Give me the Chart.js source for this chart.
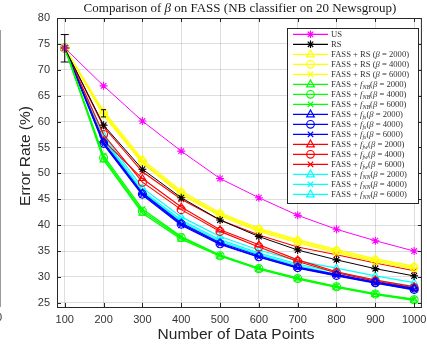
<!DOCTYPE html>
<html>
<head>
<meta charset="utf-8">
<script src="https://cdn.jsdelivr.net/npm/chart.js@4.4.1/dist/chart.umd.min.js"></script>
<style>
  html, body { margin: 0; padding: 0; background: #fff; }
  #c { display: block; }
</style>
</head>
<body>
<canvas id="c" width="427" height="350"></canvas>
<script>
// --- data ---
const xValues = [100, 200, 300, 400, 500, 600, 700, 800, 900, 1000];
const xTicks = [100, 200, 300, 400, 500, 600, 700, 800, 900, 1000];
const yTicks = [25, 30, 35, 40, 45, 50, 55, 60, 65, 70, 75, 80];

const us     = [74.2, 66.9, 60.1, 54.3, 49.0, 45.3, 41.9, 39.2, 37.0, 35.0];
const rs     = [74.2, 59.3, 50.8, 45.3, 41.0, 37.8, 35.2, 33.3, 31.6, 30.2];
const rs2000 = [74.2, 62.0, 52.7, 46.6, 42.4, 39.4, 37.2, 35.3, 33.5, 32.1];
const rs4000 = [74.2, 61.6, 52.3, 46.2, 42.1, 39.1, 36.9, 35.0, 33.2, 31.8];
const rs6000 = [74.2, 61.2, 52.0, 45.9, 41.8, 38.8, 36.6, 34.7, 32.9, 31.5];
const nb2000 = [74.2, 52.6, 42.3, 37.3, 34.0, 31.5, 29.6, 28.0, 26.6, 25.5];
const nb4000 = [74.2, 53.0, 42.7, 37.6, 34.1, 31.6, 29.7, 28.1, 26.7, 25.6];
const nb6000 = [74.2, 53.4, 43.1, 37.8, 34.2, 31.7, 29.8, 28.2, 26.8, 25.7];
const fs2000 = [74.2, 56.0, 46.2, 40.4, 36.6, 34.1, 31.9, 30.5, 29.0, 27.8];
const fs4000 = [74.2, 55.8, 46.0, 40.2, 36.4, 33.9, 31.8, 30.3, 28.9, 27.6];
const fs6000 = [74.2, 55.6, 45.8, 40.0, 36.3, 33.8, 31.7, 30.2, 28.8, 27.5];
const fw2000 = [74.2, 56.3, 49.0, 43.5, 39.1, 36.2, 33.3, 31.0, 29.4, 28.1];
const fw4000 = [74.2, 57.5, 48.3, 43.0, 38.8, 35.8, 33.0, 30.8, 29.2, 27.9];
const fw6000 = [74.2, 59.0, 50.3, 45.0, 41.0, 38.1, 35.8, 34.3, 32.7, 31.2];
const nn2000 = [74.2, 57.4, 47.2, 41.6, 37.8, 35.2, 33.1, 31.7, 30.2, 28.9];
const nn4000 = [74.2, 56.8, 46.6, 41.0, 37.2, 34.6, 32.5, 30.9, 29.4, 28.2];
const nn6000 = [74.2, 56.5, 46.3, 40.7, 36.9, 34.3, 32.2, 30.5, 28.9, 27.5];

// error bar (x, low, high)
const errX = [100, 200];
const errLow = [71.5, 60.9];
const errHigh = [76.8, 62.3];

// --- label helpers: [text, style] with n = roman, i = italic, s = subscript ---
const betaLabel = (head, sub, val) => {
	const parts = [["FASS + ", "n"]];
	if (sub) parts.push(["f", "i"], [sub, "s"], ["(", "n"]);
	else parts.push([head + " (", "n"]);
	parts.push(["β", "i"], [" = " + val + ")", "n"]);
	return parts;
};

const series = [
	{ parts: [["US", "n"]], data: us, color: "#ff00ff", marker: "star", lw: 1 },
	{ parts: [["RS", "n"]], data: rs, color: "#000000", marker: "star", lw: 1 },
	{ parts: betaLabel("RS", null, 2000), data: rs2000, color: "#ffff00", marker: "triangle", lw: 1.3 },
	{ parts: betaLabel("RS", null, 4000), data: rs4000, color: "#ffff00", marker: "circle", lw: 1.3 },
	{ parts: betaLabel("RS", null, 6000), data: rs6000, color: "#ffff00", marker: "crossRot", lw: 1.3 },
	{ parts: betaLabel(null, "NB", 2000), data: nb2000, color: "#00ff00", marker: "triangle", lw: 1.3 },
	{ parts: betaLabel(null, "NB", 4000), data: nb4000, color: "#00ff00", marker: "circle", lw: 1.3 },
	{ parts: betaLabel(null, "NB", 6000), data: nb6000, color: "#00ff00", marker: "crossRot", lw: 1.3 },
	{ parts: betaLabel(null, "fs", 2000), data: fs2000, color: "#0000ff", marker: "triangle", lw: 1.2 },
	{ parts: betaLabel(null, "fs", 4000), data: fs4000, color: "#0000ff", marker: "circle", lw: 1.2 },
	{ parts: betaLabel(null, "fs", 6000), data: fs6000, color: "#0000ff", marker: "crossRot", lw: 1.2 },
	{ parts: betaLabel(null, "fw", 2000), data: fw2000, color: "#ff0000", marker: "triangle", lw: 1.1 },
	{ parts: betaLabel(null, "fw", 4000), data: fw4000, color: "#ff0000", marker: "circle", lw: 1.1 },
	{ parts: betaLabel(null, "fw", 6000), data: fw6000, color: "#ff0000", marker: "crossRot", lw: 1.1 },
	{ parts: betaLabel(null, "NN", 2000), data: nn2000, color: "#00ffff", marker: "triangle", lw: 1.2 },
	{ parts: betaLabel(null, "NN", 4000), data: nn4000, color: "#00ffff", marker: "crossRot", lw: 1.2 },
	{ parts: betaLabel(null, "NN", 6000), data: nn6000, color: "#00ffff", marker: "triangle", lw: 1.2 }
];

const SERIF = '"Liberation Serif", "DejaVu Serif", serif';
const SANS = '"Liberation Sans", Arial, sans-serif';
const AXIS = "#262626";

// --- draw text made of parts (roman / italic / subscript) ---
const partFont = (s, size) => s === "n" ? `${size}px ${SERIF}` : s === "i" ? `italic ${size}px ${SERIF}` : `italic ${size * 0.7}px ${SERIF}`;
function richWidth(ctx, parts, size) {
	let w = 0;
	parts.forEach(([t, s]) => { ctx.font = partFont(s, size); w += ctx.measureText(t).width; });
	return w;
}
function drawRich(ctx, parts, x, y, size) {
	ctx.textBaseline = "alphabetic";
	ctx.textAlign = "left";
	parts.forEach(([t, s]) => {
		ctx.font = partFont(s, size);
		ctx.fillText(t, x, s === "s" ? y + size * 0.25 : y);
		x += ctx.measureText(t).width;
	});
}

function drawMarker(ctx, style, x, y, r) {
	ctx.beginPath();
	if (style === "circle") {
		ctx.arc(x, y, r, 0, Math.PI * 2);
	} else if (style === "triangle") {
		ctx.moveTo(x, y - r * 1.15);
		ctx.lineTo(x + r, y + r * 0.7);
		ctx.lineTo(x - r, y + r * 0.7);
		ctx.closePath();
	} else {
		const d = r * 0.71;
		ctx.moveTo(x - d, y - d); ctx.lineTo(x + d, y + d);
		ctx.moveTo(x - d, y + d); ctx.lineTo(x + d, y - d);
		if (style === "star") {
			ctx.moveTo(x - r, y); ctx.lineTo(x + r, y);
			ctx.moveTo(x, y - r); ctx.lineTo(x, y + r);
		}
	}
	ctx.stroke();
}

// --- frame, title, axis titles, error bars, legend ---
const decorPlugin = {
	id: "decor",
	afterDatasetsDraw(chart) {
		const { ctx, chartArea: a, scales: { x, y } } = chart;
		ctx.save();

		// error bars
		ctx.strokeStyle = "#000";
		ctx.lineWidth = 1;
		errX.forEach((xv, i) => {
			const px = x.getPixelForValue(xv);
			const y1 = y.getPixelForValue(errLow[i]), y2 = y.getPixelForValue(errHigh[i]);
			const cap = i === 0 ? 4 : 2.5;
			ctx.beginPath();
			ctx.moveTo(px, y1); ctx.lineTo(px, y2);
			ctx.moveTo(px - cap, y1); ctx.lineTo(px + cap, y1);
			ctx.moveTo(px - cap, y2); ctx.lineTo(px + cap, y2);
			ctx.stroke();
		});

		// box with inward ticks
		ctx.strokeStyle = AXIS;
		ctx.lineWidth = 1;
		ctx.strokeRect(a.left + 0.5, a.top + 0.5, a.right - a.left - 1, a.bottom - a.top);
		ctx.beginPath();
		xTicks.forEach(v => {
			const px = Math.round(x.getPixelForValue(v)) + 0.5;
			ctx.moveTo(px, a.bottom); ctx.lineTo(px, a.bottom - 4);
			ctx.moveTo(px, a.top); ctx.lineTo(px, a.top + 4);
		});
		yTicks.forEach(v => {
			const py = Math.round(y.getPixelForValue(v)) + 0.5;
			ctx.moveTo(a.left, py); ctx.lineTo(a.left + 4, py);
			ctx.moveTo(a.right, py); ctx.lineTo(a.right - 4, py);
		});
		ctx.stroke();

		// neighbour panel edge at far left
		ctx.strokeStyle = "#9a9a9a";
		ctx.beginPath();
		ctx.moveTo(0.5, 30); ctx.lineTo(0.5, 307);
		ctx.stroke();
		ctx.fillStyle = "#333";
		ctx.font = `11px ${SANS}`;
		ctx.textAlign = "center";
		ctx.textBaseline = "middle";
		ctx.fillText("0", -1, 318);

		// title
		ctx.fillStyle = "#1a1a1a";
		const titleParts = [["Comparison of ", "n"], ["β", "i"], [" on FASS (NB classifier on 20 Newsgroup)", "n"]];
		const tw = richWidth(ctx, titleParts, 13);
		drawRich(ctx, titleParts, 240 - tw / 2, 11.5, 13);

		// axis titles
		ctx.fillStyle = AXIS;
		ctx.font = `15.5px ${SANS}`;
		ctx.textAlign = "center";
		ctx.textBaseline = "middle";
		ctx.fillText("Number of Data Points", 236, 335);
		ctx.save();
		ctx.translate(26, 156);
		ctx.rotate(-Math.PI / 2);
		ctx.fillText("Error Rate (%)", 0, 0);
		ctx.restore();

		// legend
		const lx = 287, ly = 28, lw = 131, lh = 175;
		ctx.fillStyle = "#fff";
		ctx.fillRect(lx, ly, lw, lh);
		ctx.strokeStyle = "#262626";
		ctx.lineWidth = 1;
		ctx.strokeRect(lx + 0.5, ly + 0.5, lw, lh);
		const rowH = 10;
		series.forEach((s, i) => {
			const cy = ly + 6.3 + i * rowH;
			ctx.strokeStyle = s.color;
			ctx.lineWidth = 1.2;
			ctx.beginPath();
			ctx.moveTo(293, cy); ctx.lineTo(328, cy);
			ctx.stroke();
			drawMarker(ctx, s.marker, 310.5, cy, 3.8);
			ctx.fillStyle = "#333";
			drawRich(ctx, s.parts, 331, cy + 2.9, 8.6);
		});

		ctx.restore();
	}
};

new Chart(document.getElementById("c"), {
	type: "line",
	data: {
		datasets: series.map(s => ({
			label: s.parts.map(p => p[0]).join(""),
			data: s.data.map((v, i) => ({ x: xValues[i], y: v })),
			borderColor: s.color,
			backgroundColor: "rgba(0,0,0,0)",
			borderWidth: s.lw,
			pointStyle: s.marker,
			pointRadius: 4,
			pointBorderWidth: 1.1,
			pointBorderColor: s.color,
			pointBackgroundColor: "rgba(0,0,0,0)",
			tension: 0,
			fill: false
		}))
	},
	options: {
		responsive: false,
		animation: false,
		devicePixelRatio: 1,
		layout: { padding: { top: 18, left: 0, right: 0, bottom: 0 } },
		plugins: { legend: { display: false }, tooltip: { enabled: false }, title: { display: false } },
		scales: {
			x: {
				type: "linear", min: 80, max: 1020,
				afterBuildTicks: (s) => { s.ticks = xTicks.map(v => ({ value: v })); },
				afterFit: (s) => { s.height = 43; s.paddingLeft = 0; s.paddingRight = 0; },
				ticks: { autoSkip: false, maxRotation: 0, padding: 6, color: "#333", font: { family: SANS, size: 11 }, callback: (v) => String(v) },
				grid: { color: "rgba(0,0,0,0.13)", drawTicks: false },
				border: { display: false }
			},
			y: {
				type: "linear", min: 24.2, max: 80,
				afterBuildTicks: (s) => { s.ticks = yTicks.map(v => ({ value: v })); },
				afterFit: (s) => { s.width = 57; s.paddingTop = 0; s.paddingBottom = 0; },
				ticks: { autoSkip: false, padding: 7, color: "#333", font: { family: SANS, size: 11 }, callback: (v) => String(v) },
				grid: { color: "rgba(0,0,0,0.13)", drawTicks: false },
				border: { display: false }
			}
		}
	},
	plugins: [decorPlugin]
});
</script>
</body>
</html>
